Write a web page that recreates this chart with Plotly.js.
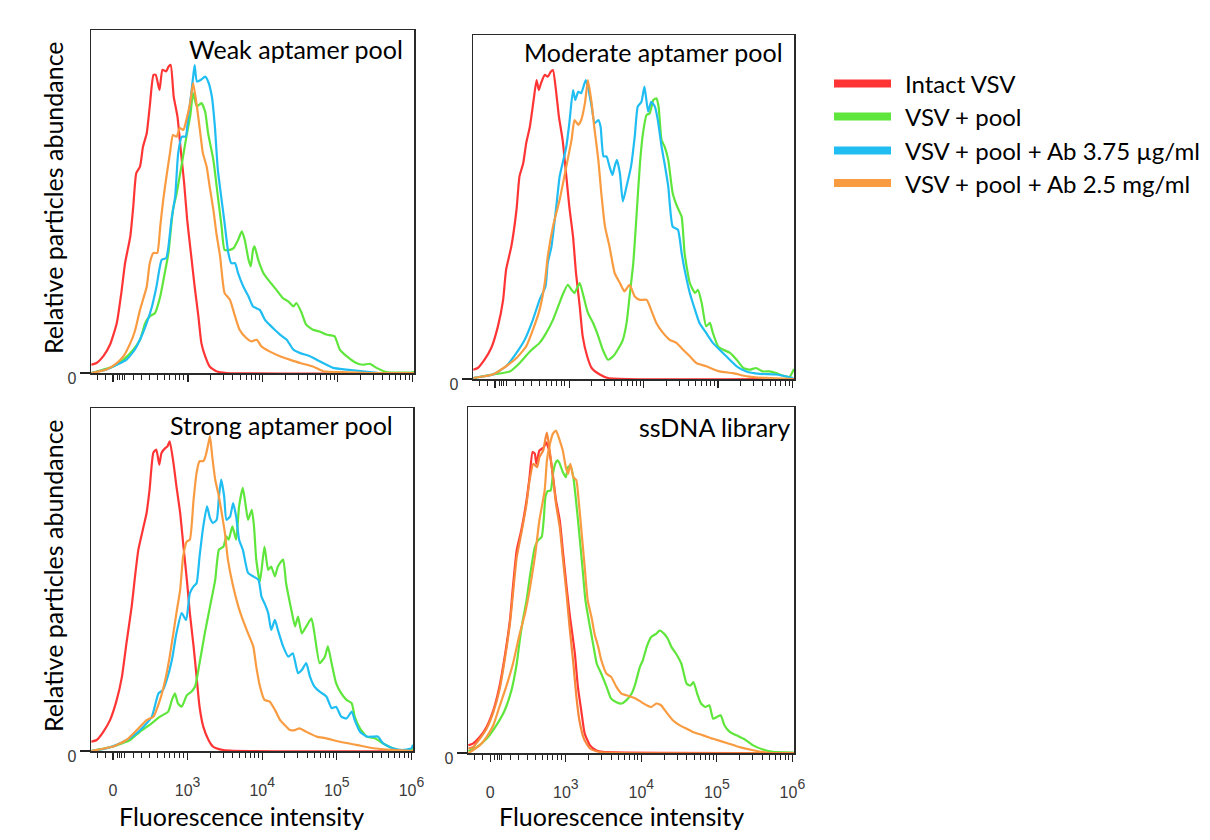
<!DOCTYPE html>
<html>
<head>
<meta charset="utf-8">
<script src="https://cdn.plot.ly/plotly-3.0.1.min.js"></script>
<style>html,body{margin:0;padding:0;background:#fff;}#chart{width:1210px;height:840px;}</style>
</head>
<body>
<div id="chart"></div>
<script>
// ---- Series / labels ----
const seriesNames = ['Intact VSV', 'VSV + pool', 'VSV + pool + Ab 3.75 µg/ml', 'VSV + pool + Ab 2.5 mg/ml'];
const seriesColors = ['#FF3535', '#5FE63C', '#1FBDF2', '#F99B40'];
const panelTitles = ['Weak aptamer pool', 'Moderate aptamer pool', 'Strong aptamer pool', 'ssDNA library'];
const xAxisTitle = 'Fluorescence intensity';
const yAxisTitle = 'Relative particles abundance';
// x values are positions on the biexponential display scale (log10 units above 10^3)
const xTickValues = [2.0, 3, 4, 5, 6];
const xTickLabels = ['<span style="font-size:16px">0</span>', '<span style="font-size:16px">10</span><sup>3</sup>', '<span style="font-size:16px">10</span><sup>4</sup>', '<span style="font-size:16px">10</span><sup>5</sup>', '<span style="font-size:16px">10</span><sup>6</sup>'];
const yTickValues = [0];
const yTickLabels = ['0'];

// ---- Weak aptamer pool ----
const weakRedX = [1.71,1.78,1.87,1.96,2.05,2.11,2.16,2.23,2.27,2.31,2.36,2.40,2.45,2.49,2.54,2.57,2.62,2.66,2.71,2.74,2.77,2.81,2.86,2.90,2.95,2.99,3.05,3.09,3.14,3.18,3.23,3.29,3.38,3.52,6.02];
const weakRedY = [2.4,2.9,4.9,8.3,14.6,23.3,32.0,39.8,48.6,58.3,60.2,66.0,69.9,77.7,86.9,86.9,82.5,88.4,87.9,89.3,89.8,80.6,74.8,66.0,55.3,44.7,33.0,25.2,16.5,8.7,4.9,1.9,0.5,0,0];
const weakGreenX = [1.71,1.87,2.00,2.14,2.27,2.36,2.43,2.49,2.56,2.63,2.69,2.74,2.80,2.85,2.92,2.98,3.03,3.07,3.12,3.18,3.23,3.27,3.34,3.40,3.45,3.49,3.56,3.61,3.67,3.72,3.76,3.81,3.84,3.87,3.89,3.94,4.01,4.09,4.18,4.27,4.34,4.41,4.45,4.52,4.58,4.67,4.76,4.85,4.96,5.03,5.12,5.25,5.34,5.43,5.52,5.65,6.01,6.02];
const weakGreenY = [0,1.0,1.9,3.9,6.8,9.7,14.6,16.5,17.5,22.3,29.1,35.0,47.6,52.4,61.2,68.9,74.8,81.6,77.7,78.7,76.2,69.9,62.1,51.5,42.7,35.9,35.9,36.4,38.8,41.3,38.8,33.0,31.1,35.9,36.9,33.0,29.1,26.7,24.3,21.8,20.9,19.4,20.4,17.5,14.1,12.6,12.1,11.2,10.7,6.8,4.9,2.9,2.4,2.7,1.5,0.3,0.2,0.5];
const weakBlueX = [1.71,1.91,2.05,2.18,2.29,2.38,2.45,2.52,2.58,2.65,2.71,2.74,2.78,2.83,2.87,2.92,2.97,3.00,3.04,3.07,3.09,3.12,3.17,3.23,3.27,3.32,3.36,3.40,3.45,3.49,3.54,3.58,3.63,3.67,3.74,3.81,3.87,3.96,4.03,4.09,4.16,4.23,4.32,4.41,4.50,4.63,4.76,4.94,5.12,5.43,5.56,6.02];
const weakBlueY = [0,1.0,2.4,3.9,6.8,10.7,14.6,19.4,25.2,33.0,33.5,36.9,44.7,51.5,64.1,68.9,68.9,73.8,80.6,86.4,89.8,85.0,85.4,86.4,85.0,80.6,71.9,59.2,50.5,43.7,35.0,32.0,32.0,29.1,25.2,22.3,19.4,18.4,15.5,14.1,12.6,11.2,9.7,6.8,5.8,4.9,3.4,1.5,1.0,0.3,0,0];
const weakOrangeX = [1.71,1.91,2.05,2.14,2.23,2.29,2.36,2.45,2.49,2.54,2.59,2.63,2.67,2.72,2.76,2.80,2.85,2.89,2.94,2.98,3.03,3.07,3.12,3.16,3.20,3.25,3.29,3.34,3.38,3.43,3.49,3.56,3.63,3.69,3.78,3.85,3.92,3.98,4.09,4.23,4.36,4.50,4.67,4.81,5.12,5.43,6.02];
const weakOrangeY = [0,1.0,2.9,4.9,8.7,12.1,18.4,25.2,32.0,35.0,35.0,42.7,50.5,58.3,64.1,69.4,68.9,71.4,70.9,73.8,78.7,84.5,77.7,70.9,64.1,60.2,54.4,47.6,40.8,34.0,23.3,21.4,16.5,12.6,10.2,9.2,9.7,7.8,6.3,4.9,3.9,2.9,1.9,0.5,0.2,0,0];

// ---- Moderate aptamer pool ----
const modRedX = [1.71,1.77,1.86,1.95,2.04,2.11,2.15,2.22,2.29,2.33,2.38,2.42,2.47,2.52,2.56,2.59,2.62,2.67,2.71,2.75,2.78,2.82,2.86,2.91,2.96,3.00,3.05,3.09,3.14,3.18,3.24,3.30,3.41,3.52,6.02];
const modRedY = [2.7,3.2,5.6,9.0,15.3,23.0,31.8,38.5,49.2,58.9,62.7,68.5,73.4,81.1,86.9,84.0,86.0,88.4,87.9,89.3,89.8,84.0,76.3,69.5,58.9,50.1,41.4,30.8,21.1,12.4,6.6,3.2,1.3,0.3,0];
const modGreenX = [1.71,1.97,2.20,2.33,2.47,2.60,2.69,2.78,2.85,2.92,2.98,3.03,3.07,3.14,3.18,3.25,3.32,3.39,3.45,3.52,3.59,3.65,3.72,3.77,3.81,3.86,3.90,3.95,3.99,4.04,4.08,4.13,4.17,4.20,4.24,4.28,4.33,4.39,4.45,4.51,4.55,4.62,4.69,4.73,4.78,4.84,4.89,4.93,5.00,5.07,5.16,5.25,5.34,5.43,5.51,5.60,5.69,5.78,5.87,5.96,6.02];
const modGreenY = [0.3,1.3,2.2,4.6,8.0,10.5,13.4,17.2,21.1,25.0,27.4,25.9,25.0,27.9,25.0,19.2,16.3,12.4,8.5,5.6,6.6,8.5,11.4,16.3,24.0,33.7,46.3,62.7,71.4,76.8,77.2,81.1,81.6,79.2,69.5,67.6,63.7,54.0,50.1,47.2,36.6,27.9,25.0,25.9,22.1,15.3,16.3,13.4,9.5,8.5,7.6,5.6,3.2,2.7,3.2,2.2,2.2,1.7,1.0,0.6,2.9];
const modBlueX = [1.71,1.97,2.15,2.29,2.40,2.51,2.60,2.68,2.71,2.76,2.83,2.87,2.92,2.96,3.00,3.05,3.08,3.12,3.16,3.22,3.25,3.30,3.34,3.39,3.42,3.46,3.50,3.54,3.58,3.61,3.64,3.68,3.72,3.77,3.83,3.88,3.92,3.97,4.01,4.06,4.10,4.15,4.19,4.24,4.28,4.33,4.39,4.46,4.51,4.55,4.62,4.69,4.75,4.84,4.93,5.02,5.11,5.25,5.38,5.56,5.78,6.01];
const modBlueY = [0.3,1.3,3.7,7.6,11.4,17.2,23.0,26.9,33.7,38.5,51.1,58.9,63.7,67.6,74.3,84.0,81.1,83.5,83.1,86.9,85.0,79.2,74.3,75.3,73.4,64.7,64.7,61.8,59.3,61.8,63.7,59.8,51.6,56.0,61.8,70.5,79.2,80.6,85.0,77.7,80.6,79.2,75.3,67.6,62.7,56.0,44.3,43.4,36.6,31.8,25.0,20.1,16.3,13.4,10.5,8.5,6.6,3.7,2.2,1.5,1.3,0.3];
const modOrangeX = [1.71,1.97,2.15,2.29,2.42,2.51,2.60,2.67,2.71,2.78,2.87,2.96,3.03,3.07,3.12,3.16,3.21,3.25,3.30,3.34,3.39,3.43,3.48,3.54,3.61,3.68,3.74,3.81,3.88,3.95,4.04,4.10,4.17,4.26,4.35,4.44,4.53,4.62,4.71,4.84,5.02,5.20,5.38,5.65,6.01];
const modOrangeY = [0.3,1.3,3.7,6.1,9.5,14.3,20.1,27.9,35.6,44.3,52.1,61.8,69.5,75.3,73.9,75.3,80.2,86.9,80.2,72.4,63.7,54.0,44.3,38.5,30.8,27.9,25.5,27.4,24.0,23.0,23.0,20.1,16.3,13.4,11.4,10.5,8.5,6.6,4.6,3.7,2.2,1.7,0.8,0.3,0];

// ---- Strong aptamer pool ----
const strRedX = [1.71,1.78,1.87,1.96,2.05,2.12,2.18,2.25,2.29,2.34,2.41,2.45,2.49,2.54,2.58,2.62,2.65,2.70,2.73,2.76,2.81,2.85,2.90,2.94,2.99,3.03,3.08,3.12,3.16,3.21,3.28,3.34,3.48,6.02];
const strRedY = [2.7,3.2,5.6,9.0,14.9,21.7,31.4,42.1,49.9,58.7,65.5,69.4,76.2,86.9,87.9,83.5,86.9,88.3,88.8,90.3,84.0,77.2,69.4,60.6,49.9,40.2,30.5,21.7,12.9,7.1,3.2,1.3,0.3,0];
const strGreenX = [1.71,2.00,2.23,2.36,2.49,2.63,2.74,2.79,2.83,2.87,2.92,2.99,3.05,3.10,3.16,3.23,3.30,3.37,3.42,3.48,3.52,3.55,3.60,3.65,3.69,3.74,3.78,3.81,3.86,3.89,3.92,3.97,4.03,4.08,4.12,4.17,4.21,4.28,4.32,4.39,4.44,4.48,4.53,4.59,4.66,4.70,4.77,4.84,4.88,4.93,4.99,5.06,5.13,5.20,5.24,5.31,5.40,5.51,5.62,5.75,5.89,5.98,6.02];
const strGreenY = [0,1.3,3.2,5.6,7.6,10.0,11.5,14.9,16.8,13.9,12.9,16.3,17.3,18.8,25.6,34.3,42.1,49.9,58.7,59.6,62.6,61.6,65.5,61.6,71.3,76.7,71.3,67.4,70.3,65.5,55.8,49.4,59.6,52.8,53.8,50.9,53.8,55.8,48.9,41.2,36.3,39.2,34.3,36.3,38.7,34.3,25.6,27.5,30.5,25.6,19.8,16.8,14.9,13.9,10.0,6.6,4.2,3.7,2.2,0.8,0,0.3,0.8];
const strBlueX = [1.71,1.92,2.14,2.32,2.43,2.52,2.61,2.67,2.72,2.79,2.85,2.92,2.98,3.03,3.08,3.12,3.16,3.21,3.26,3.30,3.34,3.39,3.42,3.45,3.49,3.52,3.57,3.61,3.65,3.69,3.74,3.81,3.88,3.95,3.99,4.03,4.08,4.12,4.17,4.21,4.28,4.35,4.41,4.48,4.53,4.59,4.64,4.70,4.77,4.86,4.93,4.99,5.06,5.13,5.20,5.24,5.31,5.40,5.49,5.55,5.62,5.75,5.89,6.00,6.02];
const strBlueY = [0,0.8,2.7,5.2,7.6,10.0,16.8,17.8,20.7,26.6,34.3,40.2,38.2,46.0,48.0,48.9,56.7,65.5,71.3,67.9,66.5,67.4,74.2,79.1,74.2,67.4,68.4,72.3,68.4,61.6,58.7,51.9,50.9,49.9,45.0,43.1,40.2,35.3,38.2,35.3,30.5,27.5,28.5,22.7,23.6,25.6,21.7,18.8,17.3,15.9,12.5,12.9,10.0,9.5,11.5,9.0,5.6,4.2,4.2,4.2,2.2,0.8,0.3,0.8,1.8];
const strOrangeX = [1.71,2.00,2.18,2.32,2.45,2.54,2.63,2.70,2.76,2.85,2.90,2.94,2.99,3.03,3.08,3.12,3.16,3.21,3.24,3.28,3.30,3.33,3.37,3.41,3.45,3.50,3.54,3.61,3.68,3.74,3.81,3.88,3.92,3.97,4.03,4.10,4.17,4.24,4.30,4.37,4.44,4.50,4.59,4.73,4.86,5.04,5.26,5.49,5.75,6.02];
const strOrangeY = [0,1.3,3.2,6.1,9.0,10.0,14.9,20.7,27.5,40.2,47.0,56.7,61.1,61.6,73.3,81.1,84.5,84.5,85.9,89.8,91.8,85.9,79.1,75.2,70.3,63.5,55.8,48.0,42.1,38.2,34.3,30.5,24.6,18.8,14.9,14.4,12.0,9.0,7.6,6.1,6.1,6.6,5.6,4.2,3.7,2.7,1.8,0.8,0.3,0];

// ---- ssDNA library ----
const libRedX = [1.71,1.77,1.86,1.95,2.04,2.12,2.19,2.26,2.30,2.35,2.41,2.48,2.52,2.56,2.59,2.61,2.65,2.68,2.71,2.74,2.78,2.82,2.87,2.92,2.96,3.01,3.05,3.12,3.16,3.21,3.25,3.32,3.40,3.49,6.02];
const libRedY = [2.2,2.7,4.6,7.5,12.3,19.1,27.7,38.3,48.0,58.6,64.3,73.0,79.7,87.0,86.5,83.6,87.4,87.9,88.4,89.8,87.4,81.7,73.0,67.2,58.6,48.0,40.3,28.7,19.1,11.4,5.6,2.2,0.8,0.3,0];
const libGreenX = [1.71,1.82,1.95,2.08,2.19,2.28,2.35,2.39,2.43,2.48,2.53,2.59,2.63,2.68,2.71,2.73,2.76,2.80,2.83,2.86,2.89,2.92,2.96,3.00,3.03,3.06,3.10,3.13,3.17,3.22,3.26,3.32,3.36,3.41,3.47,3.54,3.60,3.67,3.74,3.80,3.87,3.92,3.98,4.02,4.07,4.13,4.20,4.24,4.30,4.35,4.40,4.46,4.53,4.60,4.65,4.69,4.74,4.79,4.85,4.90,4.95,5.00,5.05,5.10,5.17,5.26,5.37,5.48,5.61,5.74,6.02];
const libGreenY = [0.6,1.7,4.1,8.0,12.3,18.1,25.8,32.5,38.3,44.1,51.8,59.5,61.4,62.4,68.2,74.0,75.7,75.9,80.7,83.6,84.6,83.6,81.2,79.7,82.6,83.1,79.7,74.0,65.3,53.7,44.1,36.4,31.6,25.8,22.9,19.1,15.7,14.7,14.3,15.2,17.1,20.0,24.8,26.8,30.6,33.5,34.5,35.4,34.5,33.0,30.6,28.7,25.8,20.0,19.5,20.5,17.1,14.3,13.3,13.8,9.9,10.4,10.9,8.0,6.1,5.1,3.9,2.2,1.0,0.3,0.1];
const libBroadOrangeX = [1.71,1.77,1.86,1.95,2.04,2.12,2.21,2.30,2.39,2.46,2.52,2.59,2.65,2.72,2.75,2.79,2.83,2.87,2.92,2.96,3.00,3.03,3.06,3.10,3.14,3.17,3.21,3.25,3.29,3.34,3.38,3.43,3.47,3.54,3.60,3.67,3.74,3.80,3.87,3.93,4.00,4.07,4.13,4.20,4.26,4.33,4.42,4.51,4.60,4.68,4.82,4.95,5.13,5.30,5.48,5.70,6.02];
const libBroadOrangeY = [0,0.8,2.2,4.6,8.0,13.3,19.1,25.8,34.5,40.3,47.0,56.6,67.2,75.9,84.6,89.4,92.3,93.2,90.3,87.4,82.6,80.7,83.6,79.7,78.8,73.0,63.4,53.7,44.1,39.3,34.5,30.6,26.8,22.9,22.0,19.1,17.1,16.7,16.2,15.7,14.7,13.8,13.3,14.3,13.8,11.8,9.4,8.0,7.0,6.1,5.1,4.1,2.9,1.7,0.8,0,0];
const libOrangeX = [1.71,1.77,1.86,1.95,2.04,2.12,2.19,2.26,2.30,2.35,2.41,2.48,2.52,2.57,2.62,2.65,2.70,2.73,2.75,2.78,2.82,2.87,2.92,2.96,3.01,3.05,3.10,3.14,3.18,3.24,3.32,3.45,6.02];
const libOrangeY = [1.3,1.7,4.1,7.0,11.8,18.1,26.8,37.4,46.0,56.6,63.4,72.0,78.8,83.6,82.6,85.5,87.4,90.8,92.6,88.4,81.7,72.0,65.3,56.6,46.0,36.4,25.8,16.2,9.4,4.1,1.3,0.3,0];

// ---- build traces ----
const W = 1210, H = 840;
const panels = [
  {series: [[weakRedX, weakRedY, 0], [weakGreenX, weakGreenY, 1], [weakBlueX, weakBlueY, 2], [weakOrangeX, weakOrangeY, 3]], box: [91, 414, 30, 373], titleAt: [405, 49], labels: false},
  {series: [[modRedX, modRedY, 0], [modGreenX, modGreenY, 1], [modBlueX, modBlueY, 2], [modOrangeX, modOrangeY, 3]], box: [473, 794, 35, 379], titleAt: [785, 52], labels: false},
  {series: [[strRedX, strRedY, 0], [strGreenX, strGreenY, 1], [strBlueX, strBlueY, 2], [strOrangeX, strOrangeY, 3]], box: [91, 413, 408, 751], titleAt: [395, 425], labels: true},
  {series: [[libRedX, libRedY, 0], [libGreenX, libGreenY, 1], [libBroadOrangeX, libBroadOrangeY, 2, '#F99B40'], [libOrangeX, libOrangeY, 3, '#F7873A']], box: [468, 794, 407, 753], titleAt: [792, 427], labels: true}
];

const minorTicks = [1.79, 1.90, 2.06, 2.09, 2.12, 2.15, 2.27, 2.38, 2.49, 2.60, 2.69, 2.76, 2.83, 2.89, 2.94];
for (let d = 3; d <= 5; d++) for (let k = 2; k <= 9; k++) minorTicks.push(d + Math.log10(k));

const traces = [];
const layout = {
  width: W, height: H, margin: {l: 0, r: 0, t: 0, b: 0},
  paper_bgcolor: '#ffffff', plot_bgcolor: '#ffffff', showlegend: false,
  annotations: [], shapes: []
};
const xTickFont = {family: 'Liberation Sans, Arial, sans-serif', size: 20, color: '#3a3a3a'};
const yTickFont = {family: 'Liberation Sans, Arial, sans-serif', size: 16, color: '#3a3a3a'};
const textFont = {family: 'Lato, sans-serif', size: 25, color: '#000000'};
const legendFont = {family: 'Lato, sans-serif', size: 24, color: '#000000'};

panels.forEach((p, i) => {
  const n = i + 1;
  const xa = n === 1 ? 'x' : 'x' + n, ya = n === 1 ? 'y' : 'y' + n;
  p.series.forEach(s => {
    traces.push({
      type: 'scatter', mode: 'lines', x: s[0], y: s[1], xaxis: xa, yaxis: ya,
      name: seriesNames[s[2]], hoverinfo: 'skip',
      line: {color: s[3] || seriesColors[s[2]], width: 2.2, shape: 'spline', smoothing: 0.5}
    });
  });
  const [x0, x1, y0, y1] = p.box;
  layout['xaxis' + (n === 1 ? '' : n)] = {
    domain: [x0 / W, x1 / W], anchor: ya, range: [1.705, 6.021],
    showline: true, mirror: true, linecolor: '#2a2a2a', linewidth: 1.5,
    ticks: 'outside', ticklen: 7, tickwidth: 1.2, tickcolor: '#222',
    tickmode: 'array', tickvals: xTickValues, ticktext: xTickLabels,
    showticklabels: p.labels, tickfont: xTickFont, ticklabelstandoff: 12,
    minor: {tickmode: 'array', tickvals: minorTicks, ticks: 'outside', ticklen: 5, tickwidth: 1, tickcolor: '#222', showgrid: false},
    showgrid: false, zeroline: false, fixedrange: true
  };
  layout['yaxis' + (n === 1 ? '' : n)] = {
    domain: [1 - y1 / H, 1 - y0 / H], anchor: xa, range: [0, 100],
    showline: true, mirror: true, linecolor: '#2a2a2a', linewidth: 1.5,
    ticks: 'outside', ticklen: 10, tickwidth: 1.2, tickcolor: '#222',
    tickmode: 'array', tickvals: yTickValues, ticktext: yTickLabels,
    tickfont: yTickFont, ticklabelshift: 5,
    showgrid: false, zeroline: false, fixedrange: true
  };
  layout.annotations.push({
    text: panelTitles[i], xref: 'paper', yref: 'paper', x: p.titleAt[0] / W, y: 1 - p.titleAt[1] / H,
    xanchor: 'right', yanchor: 'middle', showarrow: false, font: textFont
  });
});

// axis titles
[[241, 816], [621, 816]].forEach(pt => layout.annotations.push({
  text: xAxisTitle, xref: 'paper', yref: 'paper', x: pt[0] / W, y: 1 - pt[1] / H,
  xanchor: 'center', yanchor: 'middle', showarrow: false, font: textFont
}));
[[53, 198], [53, 576]].forEach(pt => layout.annotations.push({
  text: yAxisTitle, xref: 'paper', yref: 'paper', x: pt[0] / W, y: 1 - pt[1] / H, textangle: -90,
  xanchor: 'center', yanchor: 'middle', showarrow: false, font: textFont
}));

// legend
const legendRows = [83.5, 116.5, 150.5, 183];
seriesNames.forEach((name, i) => {
  const yy = 1 - legendRows[i] / H;
  layout.shapes.push({type: 'line', xref: 'paper', yref: 'paper', x0: 834 / W, x1: 891 / W, y0: yy, y1: yy,
    line: {color: seriesColors[i], width: 8}});
  layout.annotations.push({text: name, xref: 'paper', yref: 'paper', x: 903 / W, y: yy,
    xanchor: 'left', yanchor: 'middle', showarrow: false, font: legendFont});
});

Plotly.newPlot('chart', traces, layout, {displayModeBar: false, staticPlot: true});
</script>
</body>
</html>
